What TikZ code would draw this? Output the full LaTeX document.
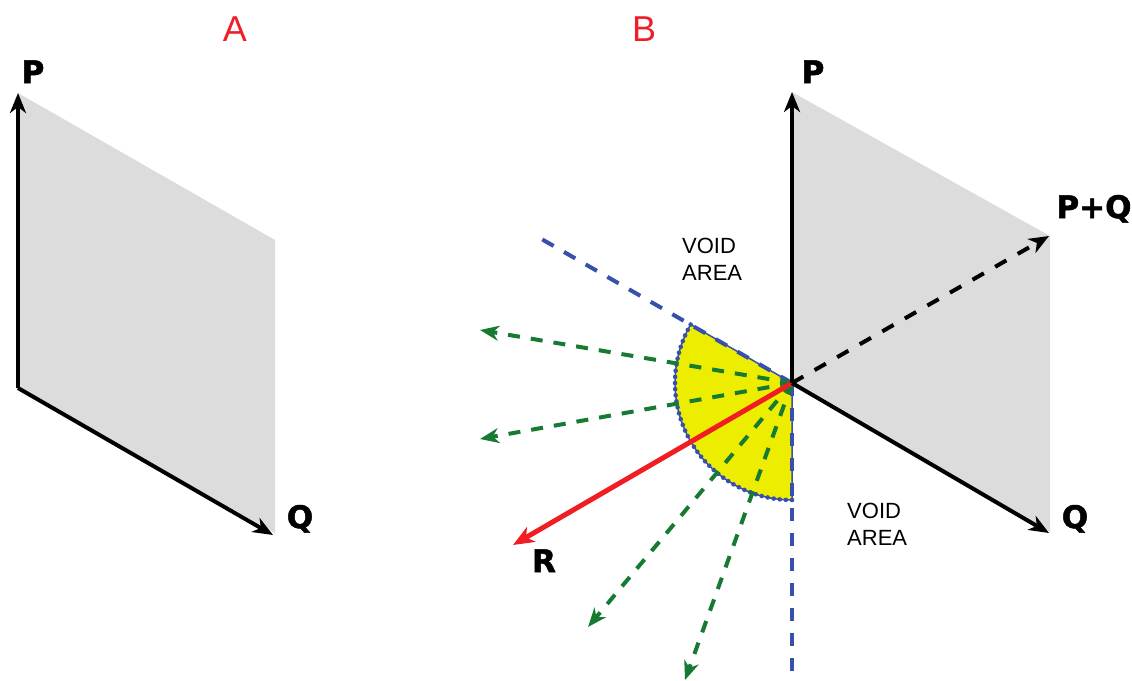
\documentclass[tikz,border=0pt]{standalone}
\usepackage{fontspec}
\setmainfont{Liberation Sans}
\newfontfamily\heavyfont{DejaVu Sans}[BoldFeatures={FakeBold=1.6}]
\usetikzlibrary{arrows.meta}
\definecolor{planegray}{RGB}{220,220,220}
\definecolor{labred}{RGB}{240,30,40}
\definecolor{vecred}{RGB}{240,30,35}
\definecolor{dgreen}{RGB}{22,122,50}
\definecolor{dblue}{RGB}{55,80,170}
\definecolor{syellow}{RGB}{237,237,0}
\begin{document}
\begin{tikzpicture}[x=1pt,y=-1pt,
  plane/.style={fill=planegray, draw=none},
  axis/.style={draw=black, line width=4pt, -{Stealth[length=20pt,width=16pt,inset=6pt]}},
  sumvec/.style={draw=black, line width=4pt, dash pattern=on 13pt off 13pt, -{Stealth[length=20pt,width=16pt,inset=6pt]}},
  resvec/.style={draw=vecred, line width=5pt, -{Stealth[length=21pt,width=17pt,inset=6pt]}},
  trial/.style={draw=dgreen, line width=4pt, dash pattern=on 12pt off 11pt, -{Stealth[length=19pt,width=15pt,inset=6pt]}},
  limit/.style={draw=dblue, line width=4pt, dash pattern=on 13pt off 12pt},
  arcdot/.style={fill=dblue, draw=none},
  sector/.style={fill=syellow, draw=dblue, line width=1.5pt},
  veclabel/.style={font=\heavyfont\bfseries\fontsize{31}{31}\selectfont, inner sep=0pt, anchor=base},
  panellabel/.style={text=labred, font=\fontsize{36}{36}\selectfont, inner sep=0pt, anchor=base},
  voidlabel/.style={font=\fontsize{22}{22}\selectfont, inner sep=0pt, anchor=base west}
]
\useasboundingbox (0,0) rectangle (1132,680);

% ---------- Panel A ----------
\coordinate (Ao) at (18,388);
\coordinate (Ap) at (18,93);
\coordinate (Aq) at (273,535);
\fill[plane] (18,93) -- (275,240) -- (275,533) -- (18,388) -- cycle;
\draw[axis] (Ao) -- (Ap);
\draw[axis] (Ao) -- (Aq);
\node[panellabel] (labA) at (235,41) {A};
\node[veclabel] (APl) at (33,83) {P};
\node[veclabel] (AQl) at (300,528) {Q};

% ---------- Panel B ----------
\coordinate (O) at (792,383);
\coordinate (Bp) at (792,92);
\coordinate (Bq) at (1049,533);
\coordinate (Bpq) at (1049,236);
\coordinate (Br) at (513,545);
\coordinate (Su) at (690.7,324.5);
\coordinate (Sd) at (792,500);
\coordinate (Lu) at (538,237);
\coordinate (Ld) at (792,680);
\coordinate (G1) at (480,330);
\coordinate (G2) at (480,439);
\coordinate (G3) at (588,627);
\coordinate (G4) at (685,680);

\fill[plane] (792,92) -- (1050,236) -- (1050,532) -- (792,383) -- cycle;

% yellow sector
\draw[sector] (O) -- (Su)
  -- plot[domain=210:90, samples=60] ({792+117*cos(\x)}, {383+117*sin(\x)})
  -- cycle;
\foreach \a in {90,93,...,210}
  \fill[arcdot] ({792+117*cos(\a)}, {383+117*sin(\a)}) circle (2.3pt);

% limits
\draw[limit] (O) -- (Lu);
\draw[limit] (O) -- (Ld);

% trial directions
\draw[trial] (O) -- (G1);
\draw[trial] (O) -- (G2);
\draw[trial] (O) -- (G3);
\draw[trial] (O) -- (G4);

% resultant R
\draw[resvec] (O) -- (Br);

% axes
\draw[axis] (O) -- (Bp);
\draw[axis] (O) -- (Bq);
\draw[sumvec] (O) -- (Bpq);

\node[panellabel] (labB) at (644,41) {B};
\node[veclabel] (BPl) at (813,83) {P};
\node[veclabel] (BQl) at (1075,528) {Q};
\node[veclabel] (BPQl) at (1094,218) {P+Q};
\node[veclabel] (BRl) at (544,572) {R};

\node[voidlabel] (v1a) at (682,253) {VOID};
\node[voidlabel] (v1b) at (682,280) {AREA};
\node[voidlabel] (v2a) at (847,518) {VOID};
\node[voidlabel] (v2b) at (847,545) {AREA};
\end{tikzpicture}
\end{document}
